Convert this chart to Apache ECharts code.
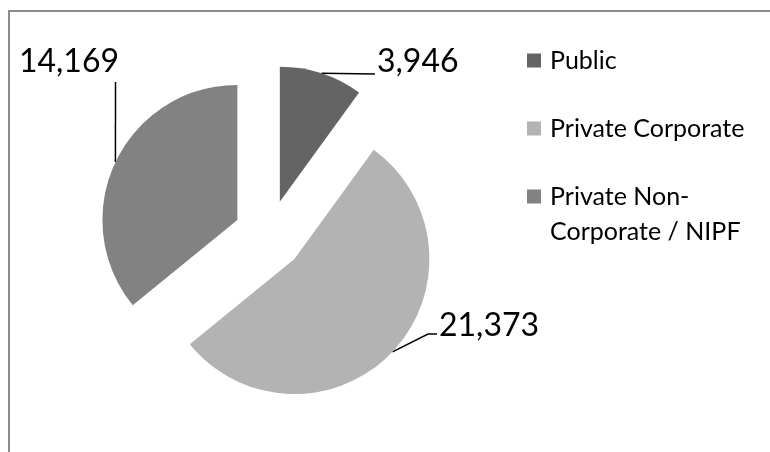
<!DOCTYPE html>
<html>
<head>
<meta charset="utf-8">
<script src="https://cdn.jsdelivr.net/npm/echarts@6/dist/echarts.min.js"></script>
<style>
  html, body { margin: 0; padding: 0; background: #fff; }
  #main { width: 770px; height: 452px; }
</style>
</head>
<body>
<div id="main"></div>
<script>
let categories = ['Public', 'Private Corporate', 'Private Non-Corporate / NIPF'];
let values = [3946, 21373, 14169];
let colors = ['#646464', '#b3b3b3', '#828282'];

// where Excel left the labels, and the bends of their leader lines
let labelSpots = [
    {x: 377, y: 62, align: 'left', via: [[375, 74]]},
    {x: 439, y: 326, align: 'left', via: [[428, 334], [437, 334]]},
    {x: 119, y: 62, align: 'right', via: [[115.5, 82]]}
];

(function() {
    var chart = echarts.init(document.getElementById('main'));
    var center = [269, 235], radius = 135, offset = 35;
    var total = values.reduce(function(a, b) { return a + b; }, 0);

    // point on the outer arc of an exploded slice, at its middle
    function edgePoint(i) {
        var before = 0;
        for (var k = 0; k < i; k++) before += values[k];
        var a = (before + values[i] / 2) / total * Math.PI * 2;
        var d = radius + offset;
        return [center[0] + Math.sin(a) * d, center[1] - Math.cos(a) * d];
    }

    var slices = categories.map(function(name, i) {
        return {name: name, value: values[i], selected: true, itemStyle: {color: colors[i]}};
    });
    var ghosts = categories.map(function(name, i) {
        return {name: name, value: values[i]};
    });

    var option = {
        animation: false,
        textStyle: {fontFamily: 'Lato'},
        graphic: [{
            type: 'rect',
            shape: {x: 9, y: 11, width: 800, height: 500},
            style: {fill: 'none', stroke: '#8c8c8c', lineWidth: 2}
        }],
        legend: {
            orient: 'vertical',
            left: 527,
            top: 8,
            padding: 0,
            itemWidth: 14,
            itemHeight: 14,
            itemGap: -2,
            icon: 'rect',
            selectedMode: false,
            // empty first line so the icon sits on "Private Non-"
            formatter: function(name) {
                return name == 'Private Non-Corporate / NIPF' ? '\nPrivate Non-\nCorporate / NIPF' : name;
            },
            textStyle: {fontSize: 25, color: '#000', lineHeight: 35, fontFamily: 'Lato', padding: [0, 0, 0, 4]},
            data: [
                {name: categories[0], textStyle: {padding: [35, 0, 35, 4]}},
                {name: categories[1]},
                {name: categories[2]}
            ]
        },
        series: [{
            type: 'pie',
            center: center,
            radius: radius,
            startAngle: 90,
            clockwise: true,
            selectedMode: 'multiple',
            selectedOffset: offset,
            silent: true,
            label: {show: false},
            labelLine: {show: false},
            data: slices
        }, {
            // invisible copy that carries the value labels
            type: 'pie',
            center: center,
            radius: radius,
            startAngle: 90,
            clockwise: true,
            silent: true,
            avoidLabelOverlap: false,
            itemStyle: {color: 'rgba(0,0,0,0)'},
            label: {
                show: true,
                color: '#000',
                fontSize: 32,
                fontFamily: 'Lato',
                formatter: function(p) {
                    return p.value.toLocaleString('en-US');
                }
            },
            labelLine: {show: true, lineStyle: {color: '#000', width: 1.5}},
            labelLayout: function(p) {
                var s = labelSpots[p.dataIndex];
                return {
                    x: s.x, y: s.y, align: s.align, verticalAlign: 'middle',
                    labelLinePoints: [edgePoint(p.dataIndex)].concat(s.via)
                };
            },
            data: ghosts
        }]
    };
    chart.setOption(option);
})();
</script>
</body>
</html>
